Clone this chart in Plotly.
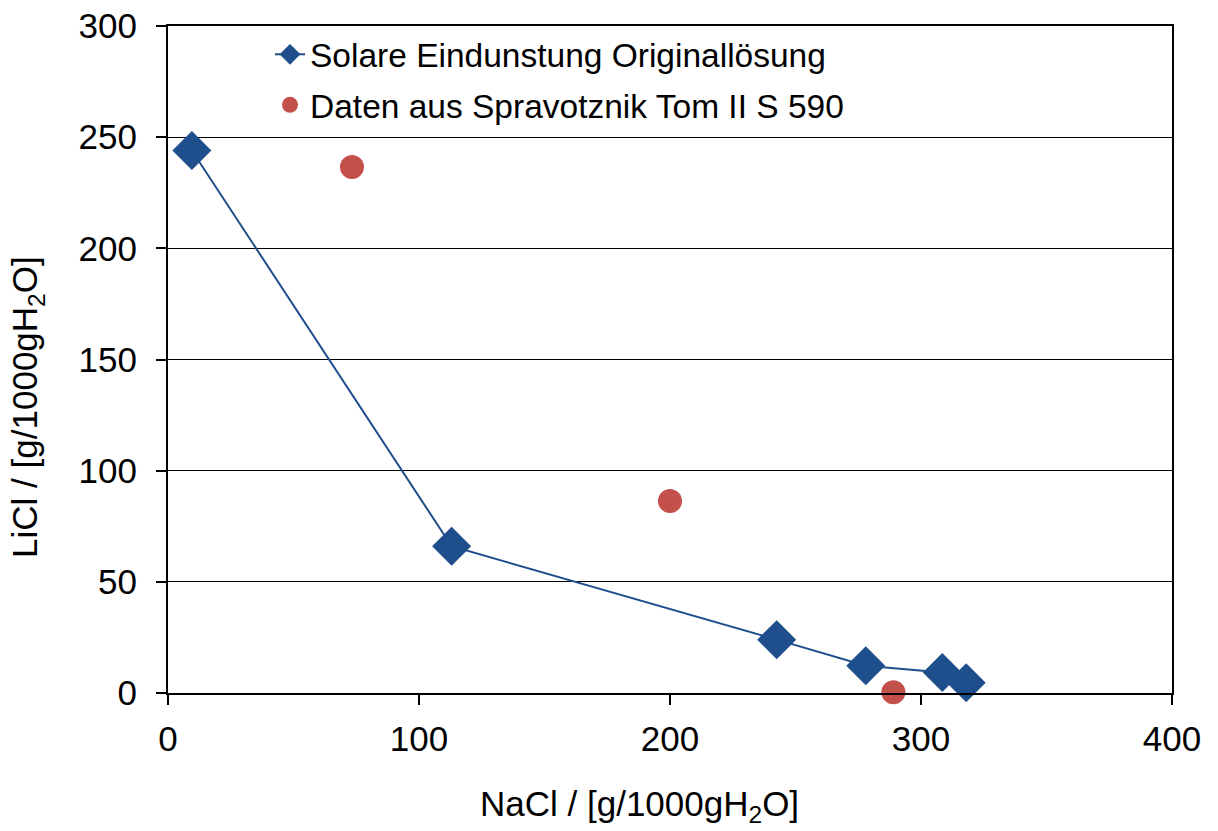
import plotly.graph_objects as go

nacl_solar = [9.5, 113, 242.5, 278, 308.5, 318]
licl_solar = [244, 66, 24, 12.3, 9.2, 4.6]

nacl_ref = [73.3, 200, 289]
licl_ref = [236.6, 86.4, 0.3]

x_ticks = [0, 100, 200, 300, 400]
y_ticks = [0, 50, 100, 150, 200, 250, 300]

blue = "#1F4E8C"
red = "#C4504B"
font_family = "Liberation Sans, Arial, sans-serif"

fig = go.Figure()
fig.add_trace(go.Scatter(
    x=nacl_solar, y=licl_solar, mode="lines+markers",
    name="Solare Eindunstung Originallösung",
    legendgroup="a",
    line=dict(color=blue, width=2),
    marker=dict(symbol="diamond", size=30, color=blue),
    cliponaxis=False,
))
fig.add_trace(go.Scatter(
    x=nacl_ref, y=licl_ref, mode="markers",
    name="Daten aus Spravotznik Tom II S 590",
    legendgroup="b",
    marker=dict(symbol="circle", size=24, color=red),
    cliponaxis=False,
))

fig.update_layout(
    width=1218, height=831,
    margin=dict(l=168, r=46, t=26, b=138),
    paper_bgcolor="white", plot_bgcolor="white",
    font=dict(family=font_family, size=35, color="black"),
    showlegend=True,
    legend=dict(
        x=0.1016, y=1.0, xanchor="left", yanchor="top",
        bgcolor="rgba(0,0,0,0)", font=dict(size=33.5),
        itemsizing="trace", tracegroupgap=4,
    ),
    annotations=[
        dict(text="LiCl / [g/1000gH<sub>2</sub>O]", xref="paper", yref="paper",
             x=-0.1404, y=0.429, xanchor="center", yanchor="middle",
             textangle=-90, showarrow=False, font=dict(size=35)),
        dict(text="NaCl / [g/1000gH<sub>2</sub>O]", xref="paper", yref="paper",
             x=0.470, y=-0.170, xanchor="center", yanchor="middle",
             showarrow=False, font=dict(size=35)),
    ],
)
fig.update_xaxes(
    range=[0, 400], tickvals=x_ticks, ticktext=[str(v) for v in x_ticks],
    showgrid=False, zeroline=False, automargin=False,
    showline=True, linecolor="black", linewidth=2, mirror=True,
    ticks="outside", ticklen=10, tickwidth=1.5, tickcolor="black",
    tickfont=dict(size=35), ticklabelstandoff=4,
)
fig.update_yaxes(
    range=[0, 300], tickvals=y_ticks, ticktext=[str(v) for v in y_ticks],
    showgrid=True, gridcolor="black", gridwidth=1.2, zeroline=False, automargin=False,
    showline=True, linecolor="black", linewidth=2, mirror=True,
    ticks="outside", ticklen=10, tickwidth=1.5, tickcolor="black",
    tickfont=dict(size=35), ticklabelstandoff=12,
)

fig.write_html("out.html")
